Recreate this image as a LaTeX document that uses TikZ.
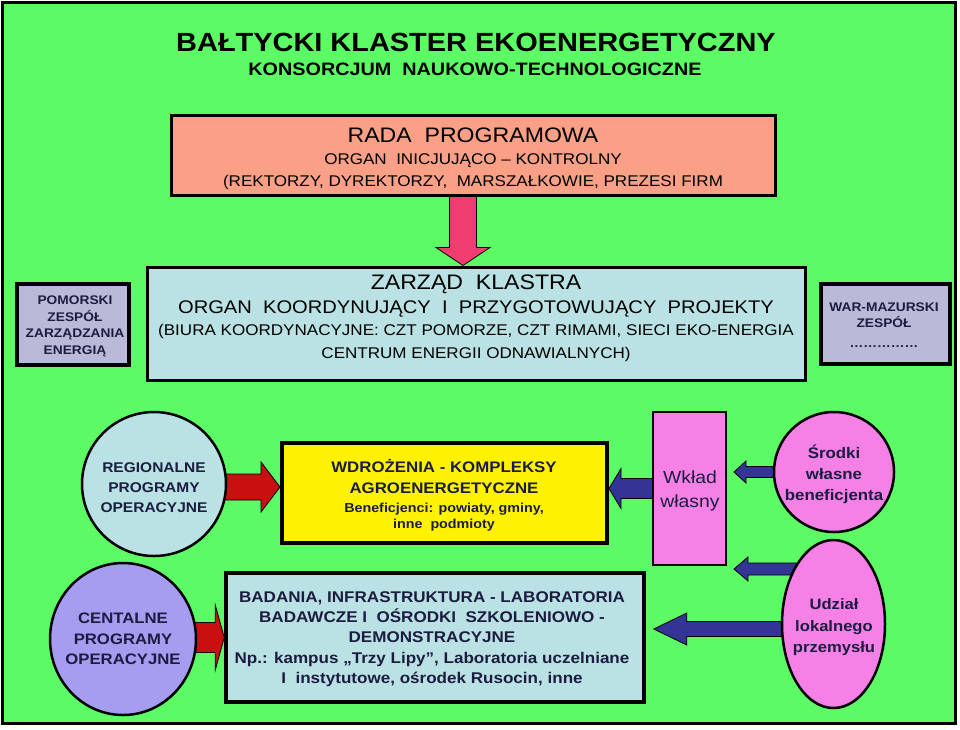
\documentclass[tikz,border=0pt]{standalone}
\usepackage{fontspec}
\setmainfont{Liberation Sans}[FakeStretch=1.1]
\usetikzlibrary{calc,shapes.geometric}
\definecolor{bggreen}{RGB}{92,250,100}
\definecolor{salmon}{RGB}{250,160,135}
\definecolor{lblue}{RGB}{186,226,228}
\definecolor{lgray}{RGB}{186,186,216}
\definecolor{pinkbox}{RGB}{245,128,230}
\definecolor{lilac}{RGB}{166,156,240}
\definecolor{pinkarr}{RGB}{240,60,110}
\definecolor{redarr}{RGB}{200,16,16}
\definecolor{bluearr}{RGB}{52,52,150}
\definecolor{navy}{RGB}{28,28,64}
\pgfdeclarelayer{bg}
\pgfdeclarelayer{arr}
\pgfsetlayers{bg,arr,main}
% text line: [colour]{name}{x}{cap-centre y}{size}{text}
\newcommand\txt[6][black]{\node[anchor=base,inner sep=0pt,text=#1,font=\fontsize{#5}{#5}\selectfont] (#2) at (#3,{#4+0.358*#5}) {#6};}
% horizontal block arrow: {tail}{tip}{shaft half}{head half}{head length, signed}{fill}
\newcommand\harrow[6]{\filldraw[fill=#6,draw=black,line width=0.8pt] let \p1=(#1),\p2=(#2) in
  (\x1,\y2+#3) -- ({\x2-(#5)},\y2+#3) -- ({\x2-(#5)},\y2+#4) -- (\x2,\y2) -- ({\x2-(#5)},\y2-#4) -- ({\x2-(#5)},\y2-#3) -- (\x1,\y2-#3) -- cycle;}
% vertical (downward) block arrow
\newcommand\varrow[6]{\filldraw[fill=#6,draw=black,line width=0.8pt] let \p1=(#1),\p2=(#2) in
  (\x2-#3,\y1) -- (\x2-#3,\y2+#5) -- (\x2-#4,\y2+#5) -- (\x2,\y2) -- (\x2+#4,\y2+#5) -- (\x2+#3,\y2+#5) -- (\x2+#3,\y1) -- cycle;}
\begin{document}
\begin{tikzpicture}[x=1pt,y=-1pt,
  box/.style={draw=black,rectangle,inner sep=0pt,line width=3pt},
  round/.style={draw=black,circle,inner sep=0pt,line width=2.5pt},
  oval/.style={draw=black,ellipse,inner sep=0pt,line width=2.5pt}]
\useasboundingbox (0,0) rectangle (960,729);
\begin{pgfonlayer}{bg}
\fill[white] (0,0) rectangle (960,729);
\node[draw=black,fill=bggreen,line width=3pt,inner sep=0pt,minimum width=953,minimum height=721] (frame) at (479,363) {};
\end{pgfonlayer}
% boxes
\node[box,fill=salmon,minimum width=604,minimum height=80] (rada) at (473,155) {};
\node[box,fill=lblue,minimum width=658,minimum height=113] (zar) at (476,323.5) {};
\node[box,fill=lgray,line width=3.5pt,minimum width=112,minimum height=81] (pom) at (73,324.5) {};
\node[box,fill=lgray,line width=3.5pt,minimum width=129,minimum height=80] (war) at (885.5,324) {};
\node[box,fill=yellow,line width=4pt,minimum width=325,minimum height=100] (yel) at (444.5,493) {};
\node[box,fill=pinkbox,line width=2pt,minimum width=73,minimum height=153] (wk) at (689.5,488.5) {};
\node[box,fill=lblue,line width=3.5pt,minimum width=418,minimum height=129] (bot) at (435,637.5) {};
\node[round,fill=lblue,minimum size=144] (reg) at (154,484) {};
\node[round,fill=pinkbox,minimum size=120] (sro) at (834,472) {};
\node[oval,fill=lilac,minimum width=146,minimum height=152] (cen) at (123,639) {};
\node[oval,fill=pinkbox,minimum width=103,minimum height=168] (udz) at (833.5,624) {};
% arrows
\coordinate (pinkx) at (463,0);
\coordinate (uy1) at (0,569);
\coordinate (uy2) at (0,629);
\begin{pgfonlayer}{arr}
\varrow{rada.center}{zar.north -| pinkx}{13.5pt}{27pt}{18pt}{pinkarr}
\harrow{reg.center}{$(yel.west)+(0,-6)$}{13pt}{25pt}{19pt}{redarr}
\harrow{cen.center}{bot.west}{15pt}{32.5pt}{9pt}{redarr}
\harrow{wk.center}{$(yel.east)+(0,-4.5)$}{10pt}{20pt}{-12pt}{bluearr}
\harrow{sro.center}{$(wk.east |- sro.center)+(7,0)$}{5.5pt}{11pt}{-12pt}{bluearr}
\harrow{udz.center |- uy1}{$(wk.east |- uy1)+(7,0)$}{6pt}{12pt}{-14pt}{bluearr}
\harrow{udz.center |- uy2}{$(bot.east |- uy2)+(8,0)$}{7.5pt}{16pt}{-33pt}{bluearr}
\end{pgfonlayer}
% texts
\txt{ttl}{476}{42.5}{26.3}{\bfseries BAŁTYCKI KLASTER EKOENERGETYCZNY}
\txt{sub}{475}{69}{18}{\bfseries KONSORCJUM\ \ NAUKOWO-TECHNOLOGICZNE}
\txt{rd1}{473}{135}{21}{RADA\ \ PROGRAMOWA}
\txt{rd2}{473}{159}{15.5}{ORGAN\ \ INICJUJĄCO – KONTROLNY}
\txt{rd3}{473}{181}{15.5}{(REKTORZY, DYREKTORZY,\ \ MARSZAŁKOWIE, PREZESI FIRM}
\txt{zr1}{476}{282}{21}{ZARZĄD\ \ KLASTRA}
\txt{zr2}{476}{307}{18.3}{ORGAN\ \ KOORDYNUJĄCY\ \ I\ \ PRZYGOTOWUJĄCY\ \ PROJEKTY}
\txt{zr3}{476}{330}{15.5}{(BIURA KOORDYNACYJNE: CZT POMORZE, CZT RIMAMI, SIECI EKO-ENERGIA}
\txt{zr4}{476}{353}{15.5}{CENTRUM ENERGII ODNAWIALNYCH)}
\txt[navy]{pm1}{75}{300}{12.5}{\bfseries POMORSKI}
\txt[navy]{pm2}{75}{317}{12.5}{\bfseries ZESPÓŁ}
\txt[navy]{pm3}{75}{333}{12.5}{\bfseries ZARZĄDZANIA}
\txt[navy]{pm4}{75}{350}{12.5}{\bfseries ENERGIĄ}
\txt[navy]{wm1}{884}{307}{12.5}{\bfseries WAR-MAZURSKI}
\txt[navy]{wm2}{884}{323}{12.5}{\bfseries ZESPÓŁ}
\txt[navy]{wm3}{884}{343}{12.5}{\bfseries ……………}
\txt[navy]{rg1}{154}{467}{14.1}{\bfseries REGIONALNE}
\txt[navy]{rg2}{154}{487}{14.1}{\bfseries PROGRAMY}
\txt[navy]{rg3}{154}{507}{14.1}{\bfseries OPERACYJNE}
\txt[navy]{yw1}{444}{467}{15.3}{\bfseries WDROŻENIA - KOMPLEKSY}
\txt[navy]{yw2}{444}{488}{15.3}{\bfseries AGROENERGETYCZNE}
\txt[navy]{yw3}{444}{508}{13}{\bfseries Beneficjenci: powiaty, gminy,}
\txt[navy]{yw4}{444}{524}{13}{\bfseries inne\ \ podmioty}
\txt[navy]{wk1}{690}{477}{17.6}{Wkład}
\txt[navy]{wk2}{690}{501}{17.6}{własny}
\txt[navy]{sr1}{834}{453}{15.3}{\bfseries Środki}
\txt[navy]{sr2}{834}{474}{15.3}{\bfseries własne}
\txt[navy]{sr3}{834}{495}{15.3}{\bfseries beneficjenta}
\txt[navy]{cn1}{123}{618}{15.2}{\bfseries CENTALNE}
\txt[navy]{cn2}{123}{639}{15.2}{\bfseries PROGRAMY}
\txt[navy]{cn3}{123}{659}{15.2}{\bfseries OPERACYJNE}
\txt[navy]{bb1}{432}{597}{15.5}{\bfseries BADANIA, INFRASTRUKTURA - LABORATORIA}
\txt[navy]{bb2}{432}{617}{15.5}{\bfseries BADAWCZE I\ \ OŚRODKI\ \ SZKOLENIOWO -}
\txt[navy]{bb3}{432}{637}{15.5}{\bfseries DEMONSTRACYJNE}
\txt[navy]{bb4}{432}{658}{15.5}{\bfseries Np.: kampus „Trzy Lipy”, Laboratoria uczelniane}
\txt[navy]{bb5}{432}{678}{15.5}{\bfseries I\ \ instytutowe, ośrodek Rusocin, inne}
\txt[navy]{ud1}{834}{604}{15.1}{\bfseries Udział}
\txt[navy]{ud2}{834}{626}{15.1}{\bfseries lokalnego}
\txt[navy]{ud3}{834}{647}{15.1}{\bfseries przemysłu}
\end{tikzpicture}
\end{document}
